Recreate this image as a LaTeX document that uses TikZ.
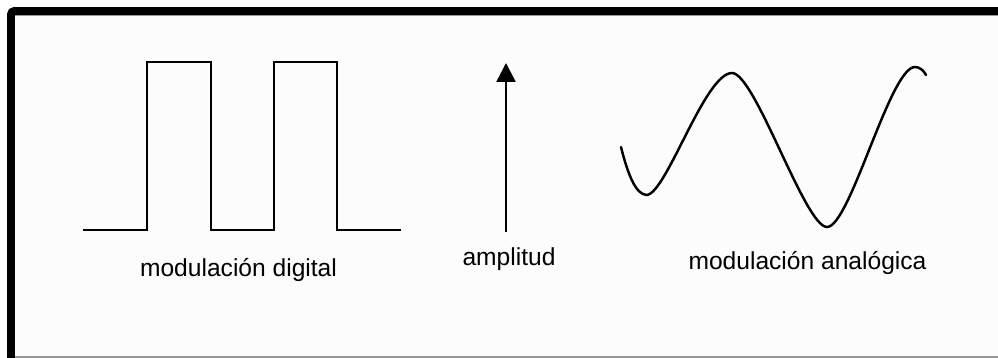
\documentclass[tikz,border=0pt]{standalone}
\usepackage{fontspec}
\setmainfont{Liberation Sans}
\usetikzlibrary{arrows.meta}
\definecolor{paper}{RGB}{252,252,252}
\definecolor{rule}{RGB}{150,150,150}

\begin{document}
\begin{tikzpicture}[x=0.02cm,y=-0.02cm,>=Latex,
    wave/.style={line width=1.4pt,line join=miter},
    lbl/.style={font=\fontsize{14}{16}\selectfont,anchor=base,inner sep=0pt}]
\useasboundingbox (0,0) rectangle (998,358);
% ================= frame =================
\fill[paper] (11,11) rectangle (998,357);
\draw[rule,line width=0.6pt] (15,15.8)--(998,15.8);
\draw[rule,line width=0.8pt] (15,357)--(998,357);
\draw[line width=4.5pt,rounded corners=2pt] (11,358)--(11,11)--(998,11);
% ================= LEFT: digital =================
\draw[wave] (83,230)--(147,230)--(147,62)--(211,62)--(211,230)
  --(274,230)--(274,62)--(337,62)--(337,230)--(401,230);
\node[lbl] (digital) at (238.5,276) {modulación digital};
% ================= MIDDLE: amplitude arrow =================
\node[lbl] (amp) at (509,265) {amplitud};
\coordinate (ampbase) at (506,232);
\coordinate (amptip) at (506,63);
\draw[line width=1.4pt,-{Triangle[width=0.38cm,length=0.38cm]}] (ampbase)--(amptip);
% ================= RIGHT: analog =================
\draw[wave,line cap=round] (621,147)
  .. controls (628,175) and (636,195) .. (647,195)
  .. controls (667,192) and (705,73) .. (732,73)
  .. controls (755,73) and (805,227) .. (827,227)
  .. controls (850,227) and (890,67) .. (915,67)
  .. controls (920,67) and (924,71) .. (926,75);
\node[lbl] (analog) at (807.5,269) {modulación analógica};
\end{tikzpicture}
\end{document}
